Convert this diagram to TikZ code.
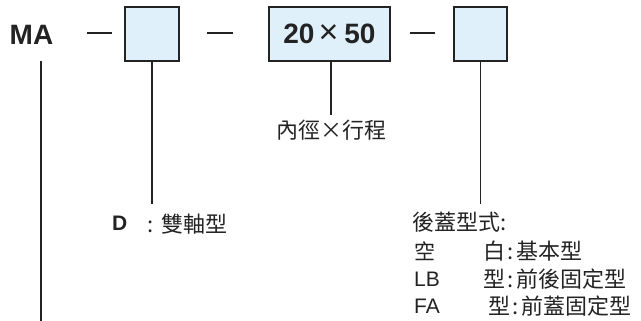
\documentclass[tikz,border=0pt]{standalone}
\usepackage{fontspec}
\setmainfont{Liberation Sans}
\newfontfamily\cjk{Noto Sans CJK TC}
\usetikzlibrary{positioning}
\definecolor{boxfill}{RGB}{224,240,250}
\definecolor{ink}{RGB}{35,35,35}
\tikzstyle{codebox}=[draw=ink,line width=1.8pt,fill=boxfill,minimum height=54pt,inner sep=0pt]
\tikzstyle{codetext}=[font=\fontsize{28}{28}\selectfont\bfseries,text=ink,inner sep=0pt]
\tikzstyle{leader}=[draw=ink,line width=1.3pt]
\tikzstyle{sep}=[draw=ink,line width=1.5pt]
\tikzstyle{note}=[font=\fontsize{22}{22}\selectfont\cjk,text=ink,inner sep=0pt,anchor=west]
\tikzstyle{latin}=[font=\fontsize{21}{21}\selectfont,text=ink,inner sep=0pt,anchor=west]

\begin{document}
\begin{tikzpicture}[x=1pt,y=-1pt]
    \useasboundingbox (0,0) rectangle (641,321);
    % the model code and its three fields
    \node[codetext] (MA) at (31.5,34.5) {MA};
    \node[codebox,minimum width=54pt] (B1) at (152,34) {};
    \node[codebox,codetext,minimum width=121pt,minimum height=54pt] (B2) at (329.5,34)
        {20\hspace{4pt}{\mdseries\fontsize{34}{34}\selectfont ×}\hspace{6pt}50};
    \node[codebox,minimum width=53pt] (B3) at (480.5,34) {};

    % dashes between the fields
    \foreach \a/\b in {87/112, 207/233, 410/435}
        \path[sep] (\a,33) -- (\b,33);

    % leader from MA down to the bottom edge
    \coordinate (MAtop) at (41,61);
    \coordinate (MAend) at (41,321);
    \path[leader] (MAtop) -- (MAend);

    % first field: shaft type
    \node[latin,font=\fontsize{21}{21}\selectfont\bfseries] (D) at (112,223.5) {D};
    \node[note] (Dtxt) at (147,224) {:\hspace{8pt}雙軸型};
    \path[leader] (B1.south) -- ++(0,142);

    % second field: bore x stroke
    \node[note,anchor=center] (bore) at (331,130) {內徑×行程};
    \path[leader,shorten >=5pt] (bore.north |- B2.south) -- (bore.north);

    % third field: rear cover
    \node[note] (rear) at (412,222) {後蓋型式:};
    \path[leader] (B3.south) -- ++(0,142);
    \foreach \y/\key/\x/\txt in {251/{\cjk 空}/483/白\hspace{2pt}:\hspace{3pt}基本型,
                                 279/LB/483/型\hspace{2pt}:\hspace{3pt}前後固定型,
                                 306/FA/488/型\hspace{2pt}:\hspace{3pt}前蓋固定型}
    {
        \node[latin,font=\fontsize{21}{21}\selectfont] (key\y) at (414,\y) {\key};
        \node[note] (txt\y) at (\x,\y) {\txt};
    }
\end{tikzpicture}
\end{document}
